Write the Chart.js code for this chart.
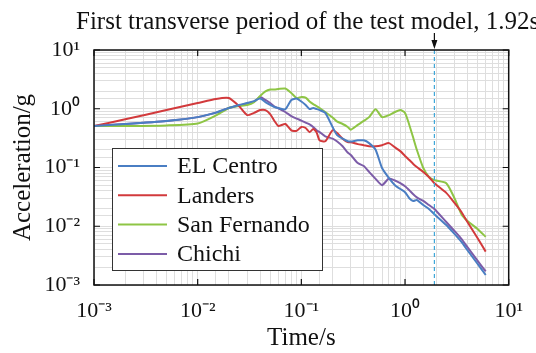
<!DOCTYPE html>
<html>
<head>
<meta charset="utf-8">
<script src="https://cdn.jsdelivr.net/npm/chart.js@4.4.0/dist/chart.umd.min.js"></script>
<style>
html, body { margin: 0; padding: 0; background: #fff; }
#wrap { width: 536px; height: 353px; }
</style>
</head>
<body>
<div id="wrap"><canvas id="myChart" width="536" height="353"></canvas></div>
<script>
// periods (s), shared by all four records
const periods = [0.001, 0.002, 0.005, 0.01, 0.015, 0.02, 0.025, 0.03, 0.035, 0.04,
    0.045, 0.05, 0.055, 0.06, 0.07, 0.08, 0.09, 0.1, 0.11, 0.12,
    0.13, 0.14, 0.15, 0.17, 0.2, 0.22, 0.25, 0.28, 0.3, 0.35,
    0.4, 0.45, 0.52, 0.6, 0.7, 0.8, 0.9, 1.0, 1.1, 1.2,
    1.3, 1.5, 1.7, 1.92, 2.5, 3, 3.5, 4, 5, 6]

// spectral acceleration (g)
const elCentro = [0.51, 0.55, 0.62, 0.72, 0.86, 1.03, 1.16, 1.25, 1.35, 1.49,
    1.30, 1.16, 1.07, 1.03, 0.98, 1.41, 1.49, 1.33, 1.16, 0.99,
    1.03, 0.99, 0.95, 0.85, 0.49, 0.36, 0.31, 0.28, 0.277, 0.29,
    0.29, 0.26, 0.20, 0.098, 0.066, 0.050, 0.043, 0.038, 0.030, 0.027,
    0.028, 0.023, 0.0197, 0.016, 0.0105, 0.0074, 0.0054, 0.0039, 0.0023, 0.00148]
const landers = [0.51, 0.66, 0.95, 1.25, 1.47, 1.52, 1.11, 0.78, 0.85, 0.95,
    0.95, 0.81, 0.62, 0.51, 0.55, 0.43, 0.42, 0.49, 0.47, 0.40,
    0.45, 0.40, 0.29, 0.28, 0.43, 0.39, 0.31, 0.27, 0.27, 0.25,
    0.24, 0.23, 0.23, 0.24, 0.26, 0.22, 0.19, 0.157, 0.134, 0.115,
    0.102, 0.084, 0.069, 0.054, 0.037, 0.025, 0.0175, 0.0118, 0.0063, 0.0037]
const sanFernando = [0.51, 0.51, 0.52, 0.56, 0.77, 1.03, 1.11, 1.16, 1.30, 1.65,
    1.97, 2.13, 2.13, 2.17, 2.21, 1.85, 1.52, 1.58, 1.55, 1.33,
    1.20, 1.11, 1.03, 0.88, 0.71, 0.61, 0.55, 0.49, 0.44, 0.53,
    0.62, 0.72, 0.98, 0.72, 0.78, 0.88, 0.95, 0.85, 0.53, 0.32,
    0.20, 0.098, 0.069, 0.061, 0.054, 0.030, 0.016, 0.0123, 0.0090, 0.0066]
const chichi = [0.51, 0.55, 0.62, 0.72, 0.86, 1.03, 1.14, 1.22, 1.32, 1.58,
    1.41, 1.25, 1.09, 1.02, 0.88, 0.75, 0.68, 0.63, 0.58, 0.54,
    0.49, 0.43, 0.40, 0.34, 0.31, 0.28, 0.23, 0.18, 0.163, 0.119,
    0.106, 0.084, 0.064, 0.050, 0.065, 0.060, 0.054, 0.048, 0.041, 0.035,
    0.031, 0.027, 0.023, 0.0197, 0.0118, 0.0083, 0.0061, 0.0044, 0.0026, 0.0017]

const seriesNames = ['EL Centro', 'Landers', 'San Fernando', 'Chichi']
const seriesValues = [elCentro, landers, sanFernando, chichi]
const seriesColors = ['#4a7ec3', '#d23a3c', '#8ec545', '#7c5ca8']

const decades = [0.001, 0.01, 0.1, 1, 10]
const firstPeriod = 1.92
const topText = 'First transverse period of the test model, 1.92s'

const serif = "'Liberation Serif', 'Times New Roman', serif"

//10^n labels with superscript exponent
const sup = {'0': '\u2070', '1': '\u00b9', '2': '\u00b2', '3': '\u00b3', '-': '\u207b'}
function powerLabel(v){
    if (!decades.includes(v)) return ''
    let e = Math.round(Math.log10(v))
    return '10' + String(e).split('').map(c => sup[c]).join('')
}

//frame, inner ticks, marker line, legend, top note
const decorPlugin = {
    id: 'decor',
    afterDatasetsDraw(chart){
        const {ctx, chartArea: a, scales} = chart
        const xs = scales.x, ys = scales.y
        ctx.save()

        // marker at first period
        let px = xs.getPixelForValue(firstPeriod)
        ctx.strokeStyle = '#3ea6d8'
        ctx.lineWidth = 1.2
        ctx.setLineDash([4, 3])
        ctx.beginPath()
        ctx.moveTo(px, a.top)
        ctx.lineTo(px, a.bottom)
        ctx.stroke()
        ctx.setLineDash([])

        // frame
        ctx.strokeStyle = '#111'
        ctx.lineWidth = 1.5
        ctx.strokeRect(a.left, a.top, a.right - a.left, a.bottom - a.top)

        // inward ticks at decades
        ctx.lineWidth = 1.2
        ctx.beginPath()
        decades.forEach(d => {
            let x = xs.getPixelForValue(d)
            ctx.moveTo(x, a.bottom); ctx.lineTo(x, a.bottom - 6)
            ctx.moveTo(x, a.top); ctx.lineTo(x, a.top + 6)
            let y = ys.getPixelForValue(d)
            ctx.moveTo(a.left, y); ctx.lineTo(a.left + 6, y)
            ctx.moveTo(a.right, y); ctx.lineTo(a.right - 6, y)
        })
        ctx.stroke()

        // legend box
        let lx = a.left + 18, ly = a.top + 98, lw = 210, lh = 122
        ctx.fillStyle = '#fff'
        ctx.fillRect(lx, ly, lw, lh)
        ctx.strokeStyle = '#333'
        ctx.lineWidth = 1
        ctx.strokeRect(lx + 0.5, ly + 0.5, lw, lh)
        ctx.font = '24px ' + serif
        ctx.textBaseline = 'middle'
        ctx.textAlign = 'left'
        chart.data.datasets.forEach((ds, i) => {
            let yy = ly + 18 + i * 29.3
            ctx.strokeStyle = ds.borderColor
            ctx.lineWidth = 2
            ctx.beginPath()
            ctx.moveTo(lx + 6, yy)
            ctx.lineTo(lx + 55, yy)
            ctx.stroke()
            ctx.fillStyle = '#111'
            ctx.fillText(ds.label, lx + 65, yy + 1)
        })

        // note and arrow above the plot
        ctx.fillStyle = '#111'
        ctx.font = '25px ' + serif
        ctx.textBaseline = 'alphabetic'
        ctx.fillText(topText, 76, 29)
        ctx.strokeStyle = '#111'
        ctx.lineWidth = 1.2
        ctx.beginPath()
        ctx.moveTo(px, 33)
        ctx.lineTo(px, a.top - 4)
        ctx.stroke()
        ctx.beginPath()
        ctx.moveTo(px - 3, a.top - 10)
        ctx.lineTo(px + 3, a.top - 10)
        ctx.lineTo(px, a.top - 1)
        ctx.closePath()
        ctx.fill()
        ctx.restore()
    }
}

const ctx = document.getElementById('myChart').getContext('2d')
const myChart = new Chart(ctx, {
    type: 'line',
    data: {
        datasets: seriesNames.map((name, i) => ({
            label: name,
            data: periods.map((p, j) => ({x: p, y: seriesValues[i][j]})),
            borderColor: seriesColors[i],
            borderWidth: 2,
            pointRadius: 0,
            tension: 0.2,
            fill: false
        }))
    },
    options: {
        responsive: false,
        animation: false,
        layout: { padding: { left: 0, right: 16, top: 50, bottom: 0 } },
        plugins: {
            legend: { display: false },
            title: { display: false },
            tooltip: { enabled: false }
        },
        scales: {
            x: {
                type: 'logarithmic',
                min: 0.001,
                max: 10,
                border: { display: false },
                grid: { color: '#dedede', lineWidth: 1, drawTicks: false },
                ticks: {
                    autoSkip: false, maxRotation: 0, padding: 13, color: '#111',
                    font: { family: serif, size: 22 },
                    callback: v => powerLabel(v)
                },
                title: { display: true, text: 'Time/s', color: '#111', font: { family: serif, size: 25 }, padding: 0 },
                afterFit: s => { s.height = 68 }
            },
            y: {
                type: 'logarithmic',
                min: 0.001,
                max: 10,
                border: { display: false },
                grid: { color: '#dedede', lineWidth: 1, drawTicks: false },
                ticks: {
                    autoSkip: false, padding: 14, color: '#111',
                    font: { family: serif, size: 22 },
                    callback: v => powerLabel(v)
                },
                title: { display: true, text: 'Acceleration/g', color: '#111', font: { family: serif, size: 25 }, padding: { top: 8, bottom: 0 } },
                afterFit: s => { s.width = 94 }
            }
        }
    },
    plugins: [decorPlugin]
})
</script>
</body>
</html>
